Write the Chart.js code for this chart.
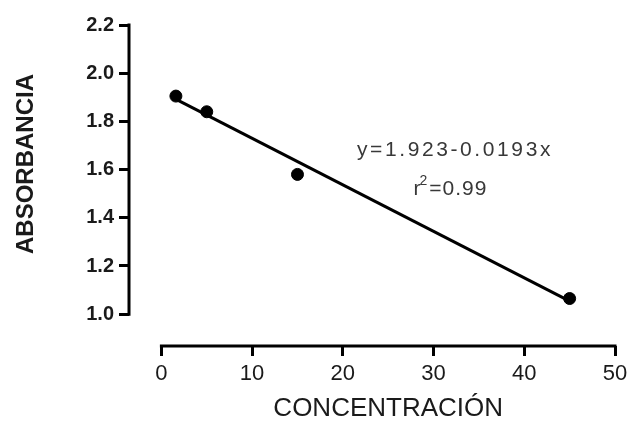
<!DOCTYPE html>
<html>
<head>
<meta charset="utf-8">
<script src="https://cdn.jsdelivr.net/npm/chart.js@4/dist/chart.umd.min.js"></script>
<style>
  html, body { margin: 0; padding: 0; background: #fff; }
</style>
</head>
<body>
<canvas id="absChart" width="637" height="428"></canvas>
<script>
// calibration data
const concentracion = [1.6, 5, 15, 45];
const absorbancia = [1.905, 1.84, 1.58, 1.065];
const xTicks = [0, 10, 20, 30, 40, 50];
const yTicks = [1.0, 1.2, 1.4, 1.6, 1.8, 2.0, 2.2];

// linear fit as printed on the chart
const intercept = 1.923;
const slope = -0.0193;
const rSquared = 0.99;
const fitFrom = 1.2;
const fitTo = 45;

const points = concentracion.map((x, i) => ({ x: x, y: absorbancia[i] }));
const fitLine = [fitFrom, fitTo].map(x => ({ x: x, y: intercept + slope * x }));

const FONT = "'Liberation Sans', Arial, sans-serif";
const INK = '#1a1a1a';

// Prism-style detached axes, titles and the fit equation
const decorations = {
    id: 'decorations',
    afterDraw(chart) {
        const c = chart.ctx;
        const xs = chart.scales.x, ys = chart.scales.y;
        const x0 = xs.getPixelForValue(xTicks[0]);
        const x1 = xs.getPixelForValue(xTicks[xTicks.length - 1]);
        const y0 = ys.getPixelForValue(yTicks[0]);
        const y1 = ys.getPixelForValue(yTicks[yTicks.length - 1]);
        const bottom = chart.chartArea.bottom;
        const left = chart.chartArea.left;

        c.save();
        c.strokeStyle = '#000';
        c.lineWidth = 3;
        c.lineCap = 'square';
        c.beginPath();
        c.moveTo(x0, bottom); c.lineTo(x1, bottom);
        c.moveTo(left, y0); c.lineTo(left, y1);
        c.stroke();

        c.fillStyle = INK;
        c.textAlign = 'center';
        c.textBaseline = 'alphabetic';
        c.font = '26px ' + FONT;
        c.fillText('CONCENTRACIÓN', (x0 + x1) / 2, 416);

        c.save();
        c.translate(33, 164);
        c.rotate(-Math.PI / 2);
        c.font = 'bold 24px ' + FONT;
        c.fillText('ABSORBANCIA', 0, 0);
        c.restore();

        // regression text
        c.fillStyle = '#383838';
        c.font = '21px ' + FONT;
        c.letterSpacing = '2.6px';
        c.fillText('y=' + intercept + '-' + Math.abs(slope) + 'x', 455, 156);

        c.letterSpacing = '1px';
        const a = 'r', b = '=' + rSquared.toFixed(2);
        c.textAlign = 'left';
        const wa = c.measureText(a).width;
        const wb = c.measureText(b).width;
        c.font = '14px ' + FONT;
        const ws = c.measureText('2').width;
        const sx = 451 - (wa + ws + wb) / 2;
        c.font = '21px ' + FONT;
        c.fillText(a, sx, 195);
        c.font = '14px ' + FONT;
        c.fillText('2', sx + wa - 2, 185);
        c.font = '21px ' + FONT;
        c.fillText(b, sx + wa + ws - 1, 195);
        c.restore();
    }
};

new Chart(document.getElementById('absChart'), {
    type: 'scatter',
    data: {
        datasets: [
            {
                data: points,
                backgroundColor: '#000',
                borderColor: '#000',
                pointRadius: 6,
                pointHoverRadius: 6
            },
            {
                type: 'line',
                data: fitLine,
                borderColor: '#000',
                borderWidth: 3,
                pointRadius: 0,
                fill: false
            }
        ]
    },
    options: {
        responsive: false,
        animation: false,
        devicePixelRatio: 1,
        layout: { padding: { top: 25, right: 22, left: 0, bottom: 0 } },
        plugins: { legend: { display: false }, tooltip: { enabled: false } },
        scales: {
            x: {
                type: 'linear',
                min: -3.57,
                max: 50,
                afterBuildTicks: s => { s.ticks = xTicks.map(v => ({ value: v })); },
                afterFit: s => { s.height = 82; },
                border: { display: false },
                grid: { drawOnChartArea: false, drawTicks: true, tickLength: 10, color: '#000', lineWidth: 3 },
                ticks: { color: INK, font: { family: FONT, size: 22 }, padding: 5, maxRotation: 0, autoSkip: false }
            },
            y: {
                type: 'linear',
                min: 0.868,
                max: 2.2,
                afterBuildTicks: s => { s.ticks = yTicks.map(v => ({ value: v })); },
                afterFit: s => { s.width = 129; },
                border: { display: false },
                grid: { drawOnChartArea: false, drawTicks: true, tickLength: 10, color: '#000', lineWidth: 3 },
                ticks: {
                    color: INK,
                    font: { family: FONT, size: 20, weight: 'bold' },
                    padding: 5,
                    autoSkip: false,
                    callback: v => v.toFixed(1)
                }
            }
        }
    },
    plugins: [decorations]
});
</script>
</body>
</html>
